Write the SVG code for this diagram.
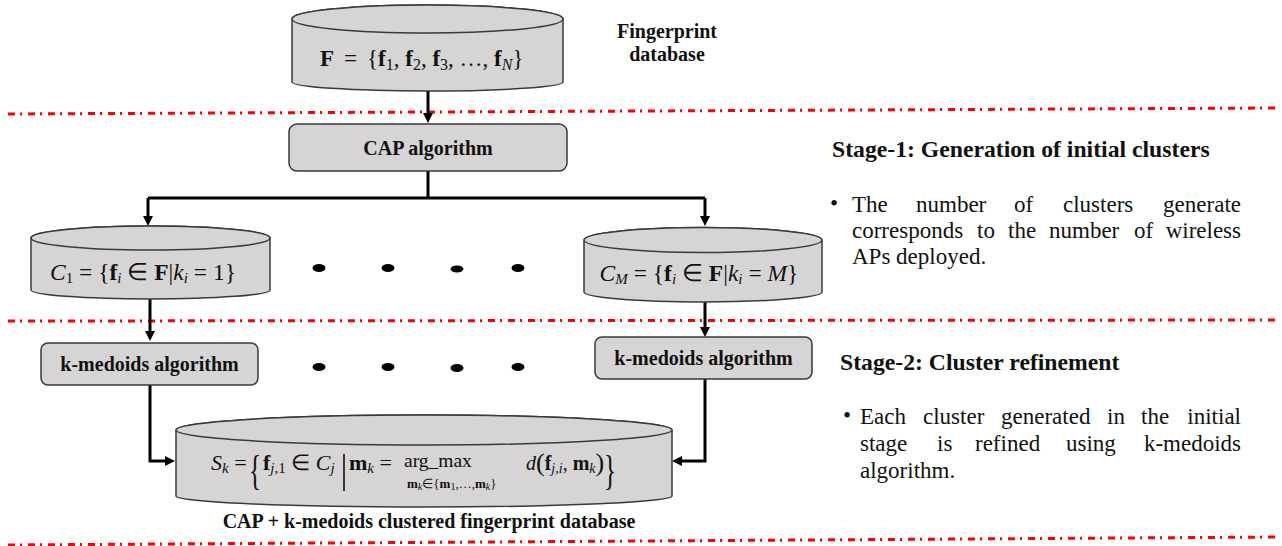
<svg xmlns="http://www.w3.org/2000/svg" width="1282" height="546" viewBox="0 0 1282 546">
<style>
.shape{fill:#d6d4d5;stroke:#3a3a3a;stroke-width:1.5}
.conn{stroke:#000;stroke-width:3;fill:none}
.red{stroke:#ff0000;stroke-width:3;fill:none;stroke-dasharray:7 5 2 6}
.dot{fill:#000}
text{font-family:"Liberation Serif","Times New Roman",serif;fill:#111}
.b{font-weight:bold}
.lbl{font-weight:bold;font-size:20px;text-anchor:middle}
.m{font-size:22px}
.i{font-style:italic}
.body{font-size:23px}
.head{font-weight:bold;font-size:23.7px}
</style>
<defs>
<marker id="arr" viewBox="0 0 10 10" refX="0" refY="5" markerWidth="10" markerHeight="12" markerUnits="userSpaceOnUse" orient="auto">
<path d="M0,0 L10,5 L0,10 z" fill="#000"/>
</marker>
</defs>

<g id="separators">
<path class="red" d="M8,114 L1280,108"/>
<path class="red" d="M8,321 L1280,320"/>
<path class="red" d="M8,545 L1280,537"/>
</g>

<g id="connectors">
<path class="conn" d="M428,91 V113" marker-end="url(#arr)"/>
<path class="conn" d="M428,171 V198"/>
<path class="conn" d="M148,198 H705"/>
<path class="conn" d="M148,198 V216" marker-end="url(#arr)"/>
<path class="conn" d="M705,198 V216" marker-end="url(#arr)"/>
<path class="conn" d="M150,299 V331" marker-end="url(#arr)"/>
<path class="conn" d="M705,302 V327" marker-end="url(#arr)"/>
<path class="conn" d="M150,385 V461 H165" marker-end="url(#arr)"/>
<path class="conn" d="M705,379 V461 H682" marker-end="url(#arr)"/>
</g>

<g id="fingerprint-db">
<path class="shape" d="M292,19 A135.5,14 0 0 1 563,19 L563,82 A135.5,9 0 0 1 292,82 Z"/>
<ellipse class="shape" cx="427.5" cy="19" rx="135.5" ry="14"/>
<text font-size="23" x="320" y="66"><tspan class="b">F</tspan><tspan x="344">=</tspan><tspan x="367">{</tspan><tspan class="b">f</tspan><tspan font-size="16" dy="4">1</tspan><tspan dy="-4">, </tspan><tspan class="b">f</tspan><tspan font-size="16" dy="4">2</tspan><tspan dy="-4">, </tspan><tspan class="b">f</tspan><tspan font-size="16" dy="4">3</tspan><tspan dy="-4">, …, </tspan><tspan class="b">f</tspan><tspan font-size="16" class="i" dy="4">N</tspan><tspan dy="-4">}</tspan></text>
</g>

<g id="fingerprint-db-label">
<text class="b" font-size="20" x="667" y="38" text-anchor="middle">Fingerprint</text>
<text class="b" font-size="20" x="667" y="61" text-anchor="middle">database</text>
</g>

<g id="cap-algorithm">
<rect class="shape" x="289" y="124" width="278" height="47" rx="8"/>
<text class="lbl" x="428" y="155">CAP algorithm</text>
</g>

<g id="cluster-1">
<path class="shape" d="M31,238 A119.5,12 0 0 1 270,238 L270,290 A119.5,9 0 0 1 31,290 Z"/>
<ellipse class="shape" cx="150.5" cy="238" rx="119.5" ry="12"/>
<text font-size="23.5" x="143" y="280" text-anchor="middle"><tspan class="i">C</tspan><tspan font-size="15" dy="3">1</tspan><tspan dy="-3"> = {</tspan><tspan class="b">f</tspan><tspan font-size="15" class="i" dy="3">i</tspan><tspan dy="-3"> ∈ </tspan><tspan class="b">F</tspan>|<tspan class="i">k</tspan><tspan font-size="15" class="i" dy="3">i</tspan><tspan dy="-3"> = 1}</tspan></text>
</g>

<g id="cluster-M">
<path class="shape" d="M584,240 A119,12.5 0 0 1 822,240 L822,292 A119,10 0 0 1 584,292 Z"/>
<ellipse class="shape" cx="703" cy="240" rx="119" ry="12.5"/>
<text font-size="23.5" x="699" y="281" text-anchor="middle"><tspan class="i">C</tspan><tspan font-size="15" class="i" dy="3">M</tspan><tspan dy="-3"> = {</tspan><tspan class="b">f</tspan><tspan font-size="15" class="i" dy="3">i</tspan><tspan dy="-3"> ∈ </tspan><tspan class="b">F</tspan>|<tspan class="i">k</tspan><tspan font-size="15" class="i" dy="3">i</tspan><tspan dy="-3"> = </tspan><tspan class="i">M</tspan>}</text>
</g>

<g id="ellipsis-dots">
<ellipse class="dot" cx="319" cy="268" rx="6.5" ry="4"/>
<ellipse class="dot" cx="388" cy="268" rx="6.5" ry="4"/>
<ellipse class="dot" cx="457" cy="269" rx="6.5" ry="3.5"/>
<ellipse class="dot" cx="518" cy="268" rx="6.5" ry="4"/>
<ellipse class="dot" cx="319" cy="367" rx="6.5" ry="4"/>
<ellipse class="dot" cx="388" cy="367" rx="6.5" ry="4"/>
<ellipse class="dot" cx="457" cy="368" rx="6.5" ry="4"/>
<ellipse class="dot" cx="518" cy="367" rx="6.5" ry="4"/>
</g>

<g id="kmedoids-1">
<rect class="shape" x="41" y="343" width="217" height="42" rx="7"/>
<text class="lbl" x="149.5" y="371">k-medoids algorithm</text>
</g>

<g id="kmedoids-M">
<rect class="shape" x="595" y="337" width="217" height="42" rx="7"/>
<text class="lbl" x="703.5" y="365">k-medoids algorithm</text>
</g>

<g id="clustered-db">
<path class="shape" d="M176,430 A248,15 0 0 1 672,430 L672,496 A248,11 0 0 1 176,496 Z"/>
<ellipse class="shape" cx="424" cy="430" rx="248" ry="15"/>
<text class="m" x="211" y="470"><tspan class="i">S</tspan><tspan font-size="15" class="i" dy="3">k</tspan><tspan dy="-3"> =</tspan></text>
<text font-size="42" transform="translate(249,484) scale(0.6,1)">{</text>
<text class="m" x="263" y="470"><tspan class="b">f</tspan><tspan font-size="15" class="i" dy="3">j</tspan><tspan font-size="15">,1</tspan><tspan dy="-3"> ∈ </tspan><tspan class="i">C</tspan><tspan font-size="15" class="i" dy="3">j</tspan></text>
<path d="M344,454 V491" stroke="#111" stroke-width="1.6"/>
<text class="m" x="349" y="470"><tspan class="b">m</tspan><tspan font-size="15" class="i" dy="3">k</tspan><tspan dy="-3"> =</tspan></text>
<text font-size="19.5" x="404" y="467">arg_max</text>
<text font-size="13" x="407" y="488"><tspan class="b">m</tspan><tspan class="i" font-size="10" dy="2">k</tspan><tspan dy="-2">∈{</tspan><tspan class="b">m</tspan><tspan font-size="10" dy="2">1</tspan><tspan dy="-2">,…,</tspan><tspan class="b">m</tspan><tspan class="i" font-size="10" dy="2">k</tspan><tspan dy="-2">}</tspan></text>
<text font-size="20" x="526" y="470"><tspan class="i">d</tspan><tspan font-size="26" dy="1">(</tspan><tspan dy="-1" class="b">f</tspan><tspan font-size="14" class="i" dy="3">j,i</tspan><tspan dy="-3">, </tspan><tspan class="b">m</tspan><tspan font-size="14" class="i" dy="3">k</tspan><tspan font-size="26" dy="-2">)</tspan></text>
<text font-size="42" transform="translate(604,484) scale(0.6,1)">}</text>
</g>

<g id="clustered-db-label">
<text class="lbl" font-size="20.4" x="429" y="528">CAP + k-medoids clustered fingerprint database</text>
</g>

<g id="stage-1-text">
<text class="head" x="832" y="157">Stage-1: Generation of initial clusters</text>
<text class="body" font-size="16" x="830" y="211">•</text>
<text class="body" y="212"><tspan x="852">The</tspan><tspan x="916">number</tspan><tspan x="1014">of</tspan><tspan x="1063">clusters</tspan></text>
<text class="body" y="212" x="1241" text-anchor="end">generate</text>
<text class="body" y="238"><tspan x="852">corresponds</tspan><tspan x="977">to</tspan><tspan x="1008">the</tspan><tspan x="1049">number</tspan><tspan x="1134">of</tspan></text>
<text class="body" y="238" x="1241" text-anchor="end">wireless</text>
<text class="body" x="852" y="264">APs deployed.</text>
</g>

<g id="stage-2-text">
<text class="head" x="840" y="370">Stage-2: Cluster refinement</text>
<text class="body" font-size="16" x="843" y="423">•</text>
<text class="body" y="424"><tspan x="860">Each</tspan><tspan x="923">cluster</tspan><tspan x="1001">generated</tspan><tspan x="1107">in</tspan><tspan x="1141">the</tspan></text>
<text class="body" y="424" x="1241" text-anchor="end">initial</text>
<text class="body" y="451"><tspan x="860">stage</tspan><tspan x="937">is</tspan><tspan x="975">refined</tspan><tspan x="1066">using</tspan></text>
<text class="body" y="451" x="1241" text-anchor="end">k-medoids</text>
<text class="body" x="860" y="478">algorithm.</text>
</g>
</svg>
